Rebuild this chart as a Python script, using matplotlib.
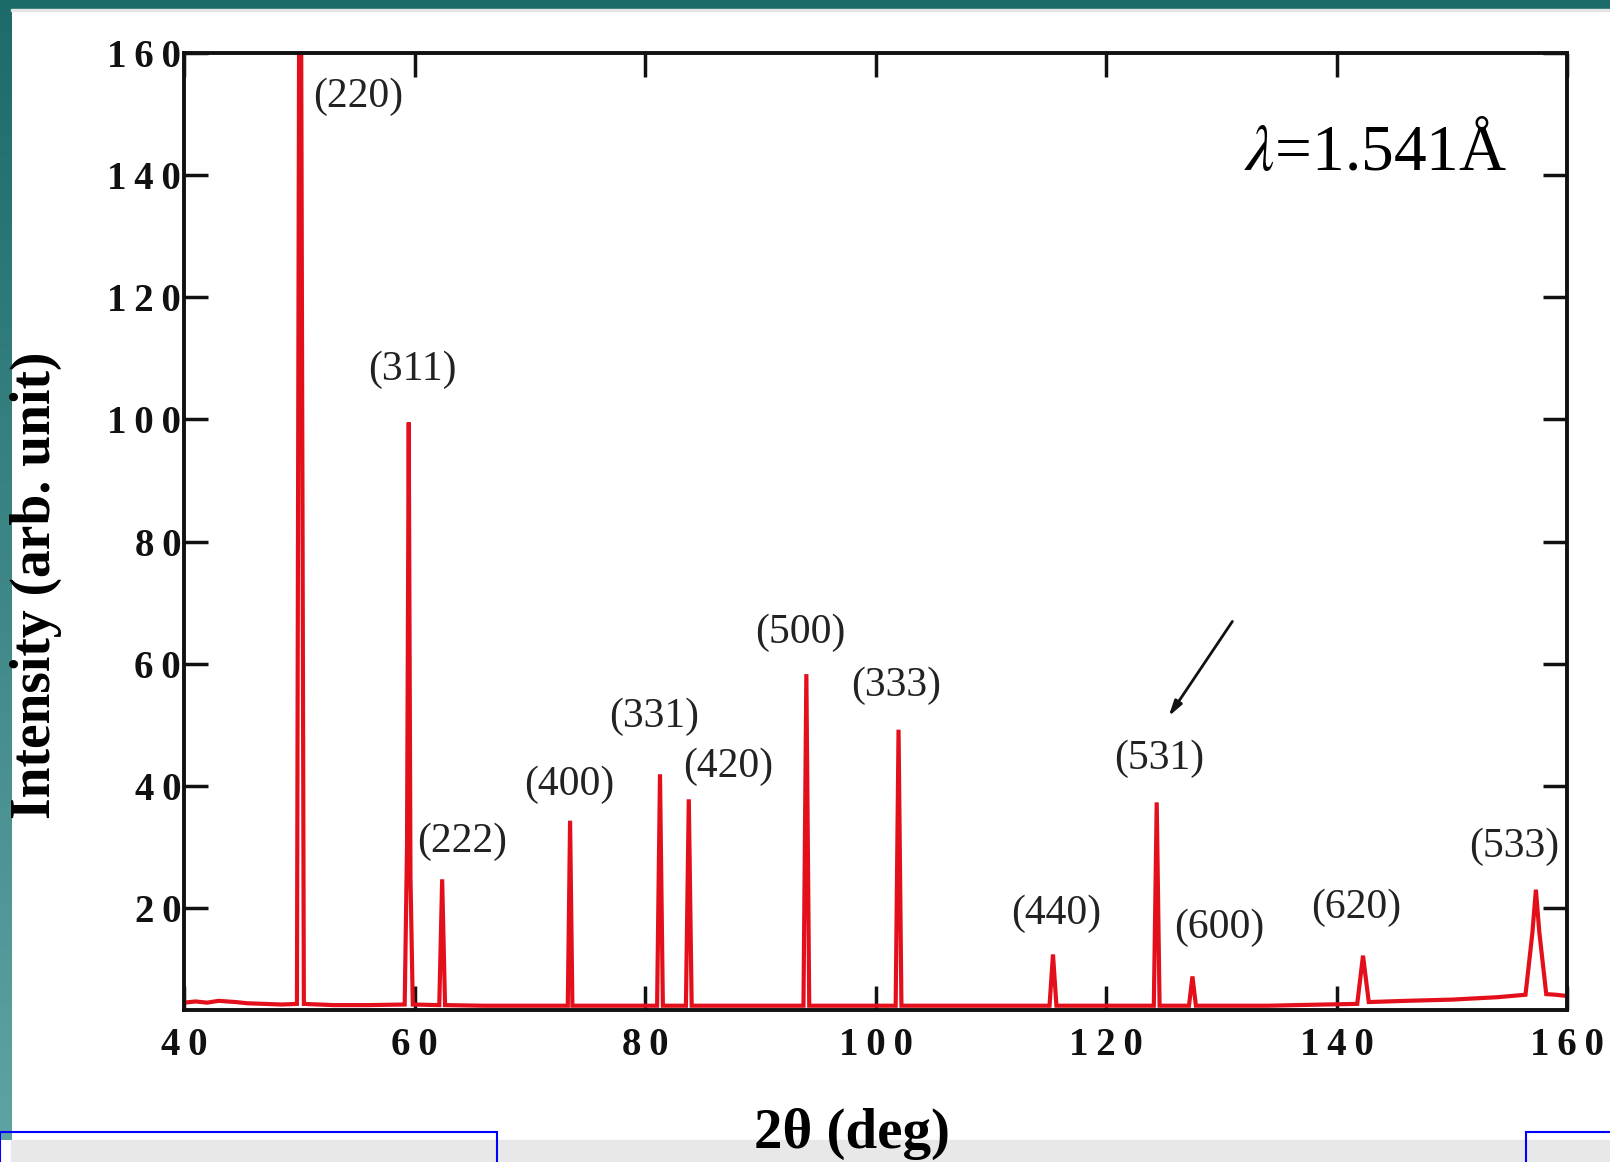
import numpy as np
import matplotlib
matplotlib.use('Agg')
import matplotlib.pyplot as plt
from matplotlib.patches import Rectangle

plt.rcParams['font.family'] = ['Liberation Serif', 'DejaVu Serif']
plt.rcParams['mathtext.fontset'] = 'stix'

# XRD trace (2theta in deg, intensity in arb. unit)
two_theta = [40.0, 41.0, 42.0, 43.0, 44.5, 45.5, 47.0, 48.5, 49.8, 50.0, 50.15, 50.4,
             53.0, 56.0, 59.15, 59.35, 59.5, 59.65, 59.85, 62.15, 62.4, 62.65,
             66.0, 70.0, 73.3, 73.5, 73.7, 77.0, 81.05, 81.3, 81.55, 83.55, 83.8, 84.05,
             88.0, 93.75, 94.0, 94.25, 98.0, 101.75, 102.0, 102.25, 108.0, 115.1, 115.4,
             115.7, 120.0, 124.15, 124.4, 124.65, 127.2, 127.5, 127.8, 134.0, 139.0,
             141.8, 142.3, 142.8, 146.0, 150.0, 154.0, 156.4, 157.0, 157.3, 157.6,
             158.2, 159.0, 160.0]
intensity = [4.5, 4.7, 4.5, 4.8, 4.6, 4.4, 4.3, 4.2, 4.3, 175.0, 175.0, 4.3,
             4.1, 4.1, 4.2, 30.0, 99.5, 25.0, 4.2, 4.1, 24.7, 4.1,
             4.0, 4.0, 4.0, 34.3, 4.0, 4.0, 4.0, 41.9, 4.0, 4.0, 37.8, 4.0,
             4.0, 4.0, 58.3, 4.0, 4.0, 4.0, 49.2, 4.0, 4.0, 4.0, 12.4,
             4.0, 4.0, 4.0, 37.3, 4.0, 4.0, 8.8, 4.0, 4.0, 4.2,
             4.3, 12.2, 4.6, 4.8, 5.0, 5.4, 5.8, 16.0, 23.0, 16.0,
             5.9, 5.8, 5.6]

# Miller indices and where the peaks sit
hkl = ['(220)', '(311)', '(222)', '(400)', '(331)', '(420)', '(500)',
       '(333)', '(440)', '(531)', '(600)', '(620)', '(533)']
label_x = [55.1, 59.8, 64.1, 73.4, 80.8, 87.2, 93.5, 101.8, 115.7, 124.6, 129.8, 141.7, 155.4]
label_y = [152.8, 108.1, 30.9, 40.2, 51.3, 43.2, 65.1, 56.4, 19.1, 44.4, 16.8, 20.0, 30.1]

x_ticks = [40, 60, 80, 100, 120, 140, 160]
y_ticks = [20, 40, 60, 80, 100, 120, 140, 160]

W, H = 1610, 1162
fig = plt.figure(figsize=(W / 100, H / 100), dpi=100)

# slide frame around the figure
fig.patches.append(Rectangle((0, 1 - 9 / H), 1, 9 / H, transform=fig.transFigure,
                             color='#1c6b6b', zorder=0))
band = fig.add_axes([0, 22 / H, 11 / W, 1 - 31 / H])
band.imshow(np.linspace(0, 1, 100)[:, None], aspect='auto',
            cmap=matplotlib.colors.LinearSegmentedColormap.from_list('t', ['#1d6b6b', '#5fa2a2']))
band.axis('off')
fig.patches.append(Rectangle((11 / W, 1 - 11 / H), 1, 2 / H, transform=fig.transFigure,
                             color='#e4e4e4', zorder=0))
fig.patches.append(Rectangle((11 / W, 0), 1, 22 / H, transform=fig.transFigure,
                             color='#e8e8e8', zorder=0))
fig.patches.append(Rectangle((0, -0.01), 497 / W, 0.01 + 30 / H, transform=fig.transFigure,
                             fill=False, edgecolor='#0000ff', lw=1.5, zorder=5))
fig.patches.append(Rectangle((1526 / W, -0.01), 0.1, 0.01 + 30 / H, transform=fig.transFigure,
                             fill=False, edgecolor='#0000ff', lw=1.5, zorder=5))

ax = fig.add_axes([184 / W, 1 - 1010 / H, (1567 - 184) / W, (1010 - 53) / H])
ax.plot(two_theta, intensity, color='#e3101c', lw=3, solid_joinstyle='miter', clip_on=True)
ax.set_xlim(40, 160)
ax.set_ylim(3.3, 160)

for lab, lx, ly in zip(hkl, label_x, label_y):
    ax.text(lx, ly, lab, fontsize=30, ha='center', va='center', color='#222222')

ax.text(143.4, 143.5, r'$\lambda$=1.541Å', fontsize=47, ha='center', va='center')
ax.annotate('', xy=(125.3, 51.0), xytext=(131.1, 67.3),
            arrowprops=dict(arrowstyle='-|>,head_length=0.9,head_width=0.25',
                            color='#111111', lw=2))

ax.set_xticks(x_ticks)
ax.set_yticks(y_ticks)
ax.set_xticklabels(['\u2009'.join(str(v)) for v in x_ticks])
ax.set_yticklabels(['\u2009'.join(str(v)) for v in y_ticks])
ax.tick_params(direction='in', length=17, width=2.5, top=True, right=True,
               labelsize=28, colors='#111111')
ax.tick_params(axis='x', pad=12)
ax.tick_params(axis='y', pad=2)
for t in ax.get_xticklabels() + ax.get_yticklabels():
    t.set_fontweight('bold')
for s in ax.spines.values():
    s.set_linewidth(2.8)
    s.set_color('#111111')

fig.text(36 / W, 1 - 585 / H, 'Intensity (arb. unit)', rotation=90, fontsize=40,
         fontweight='bold', ha='center', va='center')
fig.text(852 / W, 1 - 1134 / H, '2θ (deg)', fontsize=41, fontweight='bold',
         ha='center', va='center', zorder=6)

fig.savefig('out.png', dpi=100)
